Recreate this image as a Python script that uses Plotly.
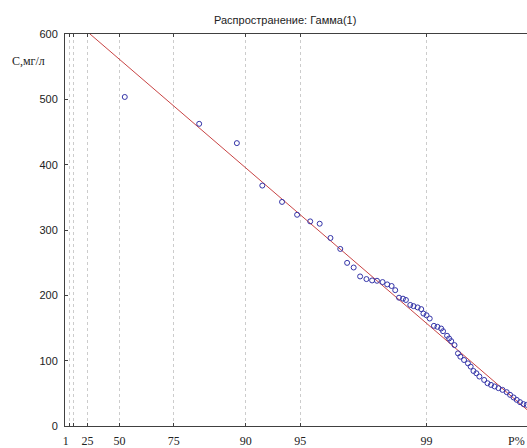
import numpy as np
import plotly.graph_objects as go

# Observed points: probability (P, %) and concentration (C, mg/l)
P_pct = [53.3, 81.9, 88.8, 91.9, 93.7, 94.8, 95.6, 96.1, 96.6, 97.0,
         97.25, 97.47, 97.67, 97.85, 98.0, 98.12, 98.25, 98.35, 98.44, 98.51,
         98.58, 98.65, 98.70, 98.77, 98.82, 98.88, 98.93, 98.96, 99.00, 99.04,
         99.09, 99.13, 99.17, 99.19, 99.23, 99.25, 99.27, 99.30, 99.33, 99.35,
         99.38, 99.41, 99.43, 99.45, 99.47, 99.49, 99.52, 99.54, 99.56, 99.58,
         99.60, 99.62, 99.64, 99.655, 99.67, 99.683, 99.696, 99.709, 99.721]
C_mgl = [503.6, 462.5, 433.0, 368.0, 343.0, 323.3, 313.2, 309.6, 287.8, 271.0,
         249.7, 242.6, 228.9, 224.9, 222.8, 222.3, 220.3, 216.7, 214.3, 207.9,
         196.4, 194.9, 192.9, 185.3, 183.5, 181.5, 178.9, 172.1, 169.5, 164.5,
         153.3, 151.8, 149.2, 145.1, 138.1, 134.0, 129.9, 123.8, 111.2, 106.1,
         101.0, 95.9, 90.9, 84.2, 80.7, 75.7, 70.5, 65.5, 62.9, 60.5,
         57.9, 55.3, 51.8, 47.7, 43.7, 40.0, 36.5, 33.5, 32.4]

# Fitted Gamma(1) line: C = intercept + slope * q, q = -ln(1 - P)
fit_intercept = 632.9
fit_slope = -103.3

# Probability axis ticks
grid_P = [1, 5, 10, 25, 50, 75, 90, 95, 99]
tick_labels = ["1", "", "", "25", "50", "75", "90", "95", "99"]
y_ticks = [0, 100, 200, 300, 400, 500, 600]


def quant(p_pct):
    return -np.log(1.0 - np.asarray(p_pct, dtype=float) / 100.0)


x_max = 5.885
q_pts = quant(P_pct)
q_line = np.array([0.0, x_max])
c_line = fit_intercept + fit_slope * q_line

fig = go.Figure()
fig.add_trace(go.Scatter(
    x=q_line, y=c_line, mode="lines",
    line=dict(color="#c84444", width=1), hoverinfo="skip", showlegend=False))
fig.add_trace(go.Scatter(
    x=q_pts, y=C_mgl, mode="markers",
    marker=dict(symbol="circle-open", size=5, color="#3434a8",
                line=dict(width=1, color="#3434a8")),
    showlegend=False, cliponaxis=False))

fig.update_layout(
    width=527, height=448,
    margin=dict(l=65, r=0, t=34, b=20),
    paper_bgcolor="white", plot_bgcolor="white",
    font=dict(family="Liberation Sans, Arial, sans-serif", size=11, color="#222"),
    annotations=[
        dict(text="Распространение: Гамма(1)", xref="paper", yref="paper",
             x=(285 - 65) / 462, y=1, yshift=14, showarrow=False,
             xanchor="center", yanchor="middle",
             font=dict(family="Liberation Sans, Arial, sans-serif", size=11, color="#222")),
        dict(text="C,мг/л", xref="paper", yref="paper",
             x=-(65 - 10) / 462, y=1, yshift=-27, showarrow=False,
             xanchor="left", yanchor="middle",
             font=dict(family="Liberation Serif, Times New Roman, serif", size=12, color="#222")),
        dict(text="P%", xref="paper", yref="paper",
             x=1, y=0, yshift=-15, showarrow=False,
             xanchor="right", yanchor="middle",
             font=dict(family="Liberation Serif, Times New Roman, serif", size=12, color="#222")),
    ],
)

fig.update_xaxes(
    range=[0, x_max], tickmode="array",
    tickvals=quant(grid_P), ticktext=tick_labels,
    showgrid=True, gridcolor="#cccccc", griddash="dot", gridwidth=1,
    showline=True, linecolor="#404040", linewidth=1, mirror="ticks",
    ticks="inside", ticklen=3, tickcolor="#404040",
    tickfont=dict(family="Liberation Serif, Times New Roman, serif", size=12, color="#222"),
    zeroline=False, ticklabelstandoff=4)
fig.update_yaxes(
    range=[0, 600], tickmode="array", tickvals=y_ticks,
    showgrid=False, zeroline=False,
    showline=True, linecolor="#404040", linewidth=1,
    ticks="inside", ticklen=3, tickcolor="#404040",
    tickfont=dict(family="Liberation Sans, Arial, sans-serif", size=11, color="#222"),
    ticklabelstandoff=4)

fig.write_html("out.html",
               config={"displayModeBar": False},
               post_script="document.body.style.margin='0px';document.body.style.overflow='hidden';")
